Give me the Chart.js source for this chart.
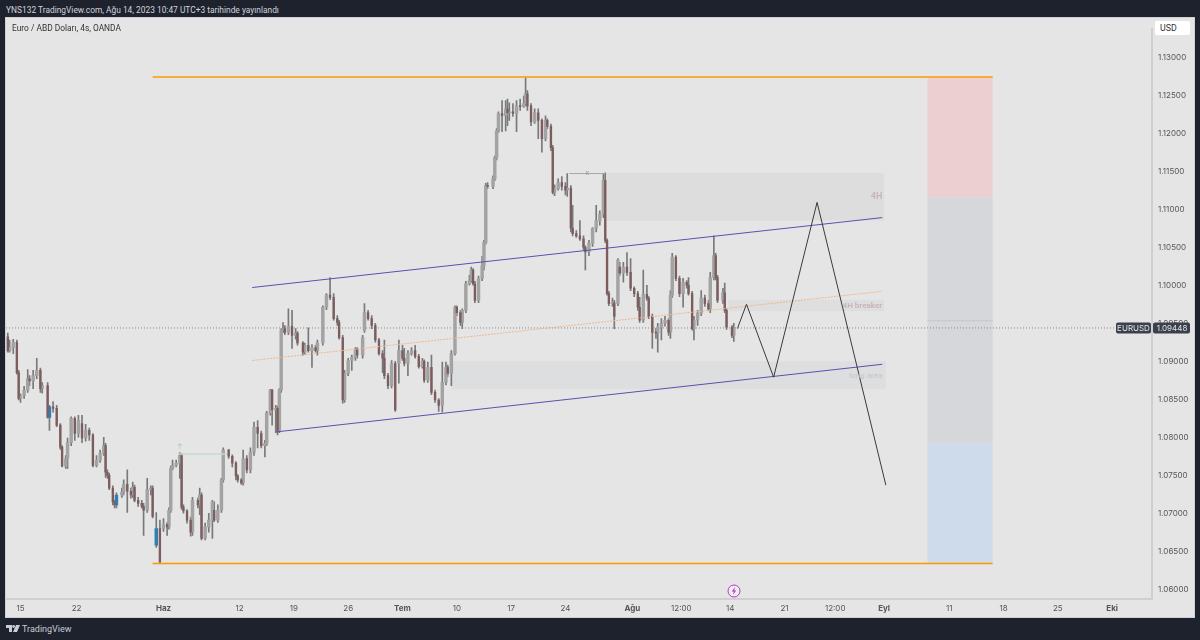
<!DOCTYPE html>
<html lang="tr">
<head>
<meta charset="utf-8">
<title>EURUSD 4s</title>
<script src="https://cdn.jsdelivr.net/npm/chart.js@4"></script>
<style>
  html, body { margin: 0; width: 1200px; height: 640px; overflow: hidden; background: #1e222d; font-family: Roboto, Inter, sans-serif; }
  #box { position: absolute; left: 6px; top: 18px; width: 1188px; height: 599px; background: #e5e5e5; outline: 1px solid #cfd1d4; }
  #head { position: absolute; left: 6px; top: 4px; font-size: 8.4px; line-height: 12px; color: #d1d4dc; white-space: nowrap; }
  #title { position: absolute; left: 12px; top: 22px; font-size: 8.4px; line-height: 12px; color: #333; white-space: nowrap; }
  #usd { position: absolute; left: 1155px; top: 21px; width: 35px; height: 14px; background: #fff; border-radius: 2px; font-size: 8.8px; line-height: 14px; color: #333; text-indent: 5px; }
  #foot { position: absolute; left: 22px; top: 623px; font-size: 9px; line-height: 12px; color: #c9ccd4; white-space: nowrap; }
  #logo { position: absolute; left: 6px; top: 625px; }
  #bolt { position: absolute; left: 727px; top: 584px; }
</style>
</head>
<body>
<div id="head">YNS132 TradingView.com, Ağu 14, 2023 10:47 UTC+3 tarihinde yayınlandı</div>
<div id="box"><canvas id="chart" width="1188" height="599"></canvas></div>
<div id="title">Euro / ABD Doları, 4s, OANDA</div>
<div id="usd">USD</div>
<svg id="bolt" width="14" height="14" viewBox="0 0 14 14"><circle cx="7" cy="7" r="6" fill="#eee" stroke="#b638c9" stroke-width="1"/><path d="M8 3 L4.8 7.6 H6.8 L6 11 L9.2 6.4 H7.2 Z" fill="#b638c9"/></svg>
<svg id="logo" width="14" height="8" viewBox="0 0 14 8"><path d="M0 0 H6 V7 H3 V3 H0 Z M7 7 L10 0 H14 L11 7 Z" fill="#c9ccd4"/><circle cx="7.6" cy="1.5" r="1.4" fill="#c9ccd4"/></svg>
<div id="foot">TradingView</div>
<script>
'use strict'

// 4h bars, counted from the left edge of the chart
const barSlots = [
  1,2,4,6,7,8,10,12,13,15,17,19,
  20,23,24,26,28,30,31,33,34,36,38,40,
  42,44,46,48,50,52,54,55,56,57,59,60,
  61,64,65,67,69,70,71,73,75,76,78,80,
  81,83,85,87,89,90,91,92,94,96,97,98,
  100,102,103,106,107,108,110,112,114,115,117,119,
  120,123,125,127,128,130,131,133,135,137,139,141,
  143,144,146,147,149,150,151,152,153,154,156,158,
  160,161,164,165,167,169,171,172,175,177,179,181,
  183,184,186,187,189,191,193,194,197,198,200,202,
  204,206,208,209,211,213,215,217,219,220,222,224,
  226,228,230,231,233,235,237,239,241,243,244,246,
  248,249,251,252,254,256,257,258,259,261,263,264,
  265,266,269,270,271,272,274,276,277,278,280,282,
  284,286,287,288,290,292,294,296,298,299,301,302,
  303,305,307,309,310,312,313,315,317,319,320,322,
  324,326,328,330,331,332,333,335,336,338,339,341,
  343,345,347,349,350,352,354,355,357,359,360,362,
  364,366,367,368,370,372,374,376,377,379,380,382,
  384,386,388,389,391,392,393,396,397,398,401,402]

const opens = [
  1.0933,1.0915,1.0919,1.0926,1.0886,1.0852,1.0856,1.0863,1.0878,1.0875,1.0882,1.0889,
  1.0865,1.0869,1.0827,1.0841,1.0839,1.0817,1.0788,1.0763,1.0773,1.0794,1.0826,1.0806,
  1.0819,1.0800,1.0810,1.0804,1.0764,1.0771,1.0780,1.0790,1.0755,1.0751,1.0734,1.0716,
  1.0712,1.0725,1.0729,1.0739,1.0730,1.0725,1.0735,1.0718,1.0714,1.0710,1.0705,1.0732,
  1.0734,1.0659,1.0681,1.0681,1.0686,1.0683,1.0705,1.0760,1.0764,1.0767,1.0777,1.0709,
  1.0704,1.0692,1.0676,1.0718,1.0712,1.0725,1.0668,1.0683,1.0692,1.0705,1.0692,1.0705,
  1.0745,1.0784,1.0776,1.0767,1.0750,1.0745,1.0741,1.0773,1.0758,1.0781,1.0814,1.0806,
  1.0790,1.0793,1.0833,1.0863,1.0837,1.0839,1.0810,1.0863,1.0942,1.0944,1.0939,1.0947,
  1.0935,1.0938,1.0925,1.0913,1.0922,1.0915,1.0919,1.0915,1.0925,1.0972,1.0988,1.0985,
  1.0957,1.0952,1.0932,1.0850,1.0885,1.0902,1.0906,1.0917,1.0909,1.0942,1.0965,1.0957,
  1.0948,1.0929,1.0911,1.0905,1.0882,1.0869,1.0898,1.0898,1.0915,1.0905,1.0898,1.0911,
  1.0915,1.0907,1.0894,1.0901,1.0876,1.0893,1.0860,1.0850,1.0843,1.0873,1.0893,1.0885,
  1.0911,1.0972,1.0965,1.0952,1.0968,1.1003,1.1007,1.1021,1.1003,1.0981,1.1010,1.1027,
  1.1057,1.1132,1.1131,1.1141,1.1169,1.1204,1.1227,1.1224,1.1233,1.1228,1.1229,1.1227,
  1.1237,1.1236,1.1240,1.1253,1.1237,1.1216,1.1228,1.1218,1.1194,1.1218,1.1210,1.1182,
  1.1123,1.1128,1.1136,1.1131,1.1126,1.1129,1.1076,1.1069,1.1066,1.1062,1.1051,1.1045,
  1.1056,1.1076,1.1086,1.1095,1.1139,1.1060,1.0990,1.0977,1.0978,1.0977,1.1025,1.1017,
  1.1025,1.1018,1.0997,1.0990,1.0972,1.0955,1.0989,1.0984,1.0960,1.0939,1.0938,1.0946,
  1.0951,1.0955,1.0939,1.0988,1.1038,1.1010,1.0990,1.1005,1.1001,1.0990,1.0944,1.0955,
  1.0964,1.0984,1.0977,1.0970,1.1011,1.1040,1.1011,1.0981,1.0991,1.0968,1.0946,1.0935]

const closes = [
  1.0915,1.0919,1.0926,1.0886,1.0852,1.0856,1.0863,1.0878,1.0875,1.0882,1.0889,1.0865,
  1.0869,1.0827,1.0841,1.0839,1.0817,1.0788,1.0763,1.0773,1.0794,1.0826,1.0806,1.0823,
  1.0800,1.0810,1.0804,1.0764,1.0771,1.0780,1.0790,1.0755,1.0751,1.0734,1.0716,1.0712,
  1.0725,1.0729,1.0739,1.0730,1.0725,1.0735,1.0718,1.0714,1.0710,1.0705,1.0732,1.0734,
  1.0697,1.0681,1.0637,1.0686,1.0683,1.0705,1.0760,1.0764,1.0767,1.0777,1.0709,1.0704,
  1.0692,1.0676,1.0718,1.0712,1.0725,1.0668,1.0683,1.0692,1.0716,1.0692,1.0705,1.0745,
  1.0784,1.0776,1.0767,1.0750,1.0745,1.0741,1.0773,1.0758,1.0781,1.0814,1.0806,1.0790,
  1.0793,1.0833,1.0863,1.0837,1.0839,1.0810,1.0863,1.0942,1.0944,1.0939,1.0947,1.0935,
  1.0938,1.0925,1.0913,1.0922,1.0915,1.0919,1.0915,1.0925,1.0972,1.0988,1.0985,1.0957,
  1.0952,1.0932,1.0850,1.0885,1.0902,1.0906,1.0917,1.0909,1.0932,1.0965,1.0957,1.0948,
  1.0929,1.0911,1.0905,1.0882,1.0869,1.0898,1.0837,1.0915,1.0905,1.0898,1.0911,1.0915,
  1.0907,1.0894,1.0901,1.0876,1.0893,1.0860,1.0850,1.0843,1.0873,1.0893,1.0885,1.0911,
  1.0972,1.0965,1.0952,1.0968,1.1003,1.1007,1.1021,1.1003,1.0981,1.1010,1.1027,1.1057,
  1.1132,1.1131,1.1141,1.1169,1.1204,1.1227,1.1224,1.1233,1.1228,1.1229,1.1227,1.1237,
  1.1236,1.1240,1.1253,1.1237,1.1216,1.1228,1.1218,1.1194,1.1218,1.1210,1.1182,1.1123,
  1.1128,1.1136,1.1131,1.1126,1.1129,1.1076,1.1069,1.1066,1.1062,1.1051,1.1045,1.1056,
  1.1076,1.1086,1.1095,1.1139,1.1060,1.0990,1.0977,1.0978,1.0960,1.1034,1.1017,1.1025,
  1.1018,1.0997,1.0990,1.0972,1.0955,1.0989,1.0984,1.0960,1.0939,1.0938,1.0946,1.0951,
  1.0955,1.0939,1.0988,1.1038,1.1010,1.0990,1.1005,1.1001,1.0990,1.0944,1.0955,1.0964,
  1.0984,1.0977,1.0970,1.1011,1.1040,1.1011,1.0981,1.0991,1.0968,1.0946,1.0935,1.0945]

const highs = [
  1.0938,1.0929,1.0930,1.0929,1.0889,1.0858,1.0868,1.0890,1.0882,1.0889,1.0905,1.0892,
  1.0873,1.0873,1.0843,1.0848,1.0843,1.0819,1.0790,1.0777,1.0800,1.0828,1.0828,1.0830,
  1.0830,1.0818,1.0813,1.0806,1.0777,1.0784,1.0801,1.0793,1.0758,1.0754,1.0737,1.0718,
  1.0728,1.0734,1.0745,1.0758,1.0734,1.0742,1.0738,1.0722,1.0718,1.0714,1.0747,1.0737,
  1.0737,1.0702,1.0692,1.0694,1.0689,1.0708,1.0763,1.0771,1.0771,1.0781,1.0780,1.0712,
  1.0706,1.0696,1.0722,1.0721,1.0734,1.0728,1.0688,1.0701,1.0718,1.0716,1.0712,1.0747,
  1.0787,1.0785,1.0778,1.0769,1.0752,1.0747,1.0784,1.0777,1.0787,1.0821,1.0823,1.0809,
  1.0797,1.0835,1.0864,1.0864,1.0843,1.0842,1.0865,1.0944,1.0952,1.0948,1.0970,1.0968,
  1.0944,1.0940,1.0927,1.0925,1.0945,1.0923,1.0922,1.0929,1.0974,1.0990,1.1011,1.0990,
  1.0961,1.0955,1.0935,1.0889,1.0905,1.0909,1.0919,1.0919,1.0935,1.0977,1.0968,1.0961,
  1.0951,1.0931,1.0915,1.0929,1.0885,1.0902,1.0901,1.0929,1.0922,1.0918,1.0915,1.0919,
  1.0922,1.0910,1.0905,1.0903,1.0900,1.0909,1.0863,1.0852,1.0900,1.0900,1.0896,1.0915,
  1.0974,1.0974,1.0968,1.0970,1.1006,1.1014,1.1025,1.1023,1.1006,1.1013,1.1039,1.1060,
  1.1135,1.1136,1.1145,1.1171,1.1207,1.1229,1.1244,1.1244,1.1246,1.1241,1.1240,1.1244,
  1.1246,1.1250,1.1274,1.1257,1.1240,1.1233,1.1233,1.1220,1.1224,1.1220,1.1213,1.1185,
  1.1133,1.1141,1.1144,1.1136,1.1148,1.1132,1.1106,1.1073,1.1086,1.1066,1.1053,1.1060,
  1.1077,1.1106,1.1099,1.1148,1.1149,1.1062,1.0993,1.0984,1.0981,1.1036,1.1031,1.1031,
  1.1044,1.1036,1.0999,1.0993,1.0985,1.1021,1.1001,1.0986,1.0963,1.0944,1.0951,1.0957,
  1.0960,1.0957,1.0994,1.1043,1.1040,1.1013,1.1010,1.1007,1.1011,1.0993,1.0960,1.0968,
  1.0994,1.0988,1.0981,1.1018,1.1066,1.1043,1.1014,1.0997,1.1004,1.0970,1.0948,1.0951]

const lows = [
  1.0913,1.0913,1.0911,1.0884,1.0850,1.0847,1.0852,1.0860,1.0869,1.0865,1.0878,1.0860,
  1.0859,1.0826,1.0810,1.0834,1.0815,1.0785,1.0762,1.0760,1.0760,1.0790,1.0797,1.0801,
  1.0794,1.0796,1.0797,1.0762,1.0762,1.0768,1.0777,1.0748,1.0747,1.0732,1.0712,1.0708,
  1.0708,1.0722,1.0725,1.0702,1.0721,1.0722,1.0716,1.0710,1.0708,1.0672,1.0702,1.0725,
  1.0695,1.0656,1.0635,1.0677,1.0672,1.0680,1.0702,1.0758,1.0762,1.0747,1.0706,1.0701,
  1.0688,1.0671,1.0672,1.0708,1.0699,1.0666,1.0666,1.0676,1.0668,1.0690,1.0689,1.0702,
  1.0742,1.0773,1.0762,1.0745,1.0742,1.0739,1.0738,1.0754,1.0754,1.0777,1.0787,1.0787,
  1.0775,1.0790,1.0830,1.0817,1.0807,1.0804,1.0807,1.0860,1.0939,1.0936,1.0936,1.0918,
  1.0930,1.0922,1.0909,1.0910,1.0913,1.0893,1.0913,1.0909,1.0922,1.0969,1.0982,1.0955,
  1.0948,1.0930,1.0846,1.0847,1.0882,1.0889,1.0902,1.0905,1.0905,1.0939,1.0955,1.0944,
  1.0926,1.0909,1.0886,1.0878,1.0865,1.0866,1.0835,1.0872,1.0902,1.0895,1.0882,1.0909,
  1.0905,1.0892,1.0892,1.0873,1.0873,1.0857,1.0847,1.0835,1.0834,1.0870,1.0881,1.0869,
  1.0909,1.0961,1.0948,1.0944,1.0965,1.1001,1.1005,1.1001,1.0978,1.0978,1.1007,1.1021,
  1.1055,1.1128,1.1128,1.1139,1.1166,1.1202,1.1203,1.1204,1.1211,1.1218,1.1223,1.1203,
  1.1231,1.1235,1.1237,1.1231,1.1211,1.1214,1.1194,1.1176,1.1191,1.1207,1.1178,1.1121,
  1.1119,1.1126,1.1126,1.1120,1.1118,1.1071,1.1066,1.1064,1.1060,1.1047,1.1021,1.1040,
  1.1052,1.1071,1.1080,1.1090,1.1057,1.0988,1.0974,1.0973,1.0944,1.0974,1.1014,1.1005,
  1.1014,1.0994,1.0986,1.0968,1.0952,1.0952,1.0981,1.0957,1.0918,1.0931,1.0913,1.0929,
  1.0947,1.0935,1.0931,1.0985,1.1007,1.0986,1.0972,1.0997,1.0988,1.0942,1.0929,1.0948,
  1.0961,1.0973,1.0968,1.0965,1.1008,1.1008,1.0978,1.0977,1.0965,1.0943,1.0932,1.0927]

const blueBars = [24, 61, 83]

const priceTicks = [1.06,1.065,1.07,1.075,1.08,1.085,1.09,1.095,1.10,1.105,1.11,1.115,1.12,1.125,1.13]
const timeTicks = [8,39,87,129,159,189,219,249,279,309,346,373,400,430,458,485,521,551,581,611]
const timeLabels = ['15','22','Haz','12','19','26','Tem','10','17','24','Ağu','12:00','14','21','12:00','Eyl','11','18','25','Eki']
const monthLabels = ['Haz','Tem','Ağu','Eyl','Eki']

const lastPrice = 1.09448

// drawings on the chart
const rangeTop = [[81,1.1275],[545,1.1275]]
const rangeBottom = [[81,1.0635],[545,1.0635]]
const channelUpper = [[136,1.0998],[484,1.1090]]
const channelLower = [[149,1.0808],[484,1.0897]]
const channelMiddle = [[136,1.0902],[484,1.0993]]
const forecastPath = [[404,1.0944],[409,1.0976],[424,1.0880],[448,1.1110],[486,1.0738]]
const measureLine = [[311,1.1148],[331,1.1148]]
const signalLine = [[95,1.0779],[122,1.0779]]
const priceLine = [[0,lastPrice],[633,lastPrice]]

const zoneStart = [509,509,509,332,399,246]
const zoneEnd = [545,545,545,485,485,486]
const zoneTop = [1.1275,1.1116,1.0793,1.1149,1.0982,1.0901]
const zoneBottom = [1.1116,1.0793,1.0635,1.1086,1.0967,1.0864]
const zoneColors = ['#ecd0d1','#d6d7da','#cedbeb','#dddddd','#dedede','#dddee0']

function toPoints(list) {
  return list.map(p => ({x: p[0], y: p[1]}))
}

function drawingLine(list, color, width, dash, order) {
  return {
    type: 'line', data: toPoints(list), borderColor: color, borderWidth: width,
    borderDash: dash, pointRadius: 0, tension: 0, fill: false, order: order
  }
}

const wickData = barSlots.map((s, i) => ({x: s, y: [lows[i], highs[i]]}))

// up bodies are wide and grey, down bodies narrow and red
const upIndex = barSlots.map((s, i) => i).filter(i => closes[i] >= opens[i])
const downIndex = barSlots.map((s, i) => i).filter(i => closes[i] < opens[i])

function bodyPoints(list) {
  return list.map(i => ({x: barSlots[i], y: [opens[i], closes[i]]}))
}

function bodyColors(list, color) {
  return list.map(i => blueBars.includes(barSlots[i]) ? '#2f7fb5' : color)
}

const zones = {
  id: 'zones',
  beforeDatasetsDraw(chart) {
    const {ctx, scales: {x, y}} = chart
    ctx.save()
    zoneStart.forEach((s, i) => {
      const left = x.getPixelForValue(s)
      const top = y.getPixelForValue(zoneTop[i])
      ctx.fillStyle = zoneColors[i]
      ctx.fillRect(left, top, x.getPixelForValue(zoneEnd[i]) - left, y.getPixelForValue(zoneBottom[i]) - top)
    })
    // stop line inside the grey part of the position box
    ctx.fillStyle = '#c6c7cb'
    ctx.fillRect(x.getPixelForValue(509), y.getPixelForValue(1.0955), x.getPixelForValue(545) - x.getPixelForValue(509), 1)
    ctx.restore()
  }
}

const labels = {
  id: 'labels',
  afterDatasetsDraw(chart) {
    const {ctx, scales: {x, y}} = chart
    ctx.save()
    ctx.textBaseline = 'middle'

    ctx.textAlign = 'right'
    ctx.font = 'bold 9px Roboto, Inter, sans-serif'
    ctx.fillStyle = '#c9b5b9'
    ctx.fillText('4H', x.getPixelForValue(484), y.getPixelForValue(1.1117))
    ctx.font = 'bold 8px Roboto, Inter, sans-serif'
    ctx.fillText('4H breaker', x.getPixelForValue(484), y.getPixelForValue(1.0974))
    ctx.font = '8px Roboto, Inter, sans-serif'
    ctx.fillStyle = '#c3c5c9'
    ctx.fillText('long area', x.getPixelForValue(484), y.getPixelForValue(1.0882))

    ctx.textAlign = 'center'
    ctx.font = '7px Roboto, Inter, sans-serif'
    ctx.fillStyle = '#b88a90'
    ctx.fillText('x', x.getPixelForValue(321), y.getPixelForValue(1.1148))
    ctx.fillStyle = '#a9cdb5'
    ctx.font = '8px Roboto, Inter, sans-serif'
    ctx.fillText('↑', x.getPixelForValue(96), y.getPixelForValue(1.0788))

    // last price tag on the axis
    const tagY = y.getPixelForValue(lastPrice)
    const right = x.right
    ctx.fillStyle = '#3c404c'
    ctx.beginPath()
    ctx.roundRect(right - 36, tagY - 5.5, 35, 11, 2)
    ctx.roundRect(right + 1, tagY - 5.5, 37, 11, 2)
    ctx.fill()
    ctx.fillStyle = '#e3e4e8'
    ctx.font = '8px Inter, Roboto, sans-serif'
    ctx.fillText('EURUSD', right - 18.5, tagY + 0.5)
    ctx.fillText('1.09448', right + 20, tagY + 0.5)
    ctx.restore()
  }
}

const eurusdChart = new Chart(document.getElementById('chart'), {
  type: 'bar',
  plugins: [zones, labels],
  data: {
    datasets: [
      drawingLine(forecastPath, '#3a3a3a', 1, [], 0),
      drawingLine(rangeTop, '#ff9800', 1.6, [], 1),
      drawingLine(rangeBottom, '#ff9800', 1.6, [], 1),
      drawingLine(channelUpper, '#5b50ae', 1, [], 2),
      drawingLine(channelLower, '#5b50ae', 1, [], 2),
      drawingLine(channelMiddle, '#f0b98c', 1, [2, 1], 3),
      drawingLine(measureLine, '#a8a8a8', 1, [], 4),
      drawingLine(signalLine, '#c6dacb', 1.5, [], 4),
      {type: 'bar', data: bodyPoints(downIndex), backgroundColor: bodyColors(downIndex, '#7c5c5d'), barThickness: 1.7, minBarLength: 1, grouped: false, order: 7},
      {type: 'bar', data: bodyPoints(upIndex), backgroundColor: bodyColors(upIndex, '#a3a3a3'), barThickness: 2.8, minBarLength: 1, grouped: false, order: 8},
      {type: 'bar', data: wickData, backgroundColor: '#77797b', barThickness: 1, grouped: false, order: 9},
      drawingLine(priceLine, '#8a8a8a', 1, [1, 2], 10)
    ]
  },
  options: {
    responsive: false,
    animation: false,
    layout: {padding: 0},
    plugins: {legend: {display: false}, tooltip: {enabled: false}},
    scales: {
      x: {
        type: 'linear', min: 0, max: 633, offset: false,
        grid: {display: false, drawTicks: false},
        border: {color: '#cfcfcf', width: 2},
        afterBuildTicks(axis) { axis.ticks = timeTicks.map(v => ({value: v})) },
        afterFit(axis) { axis.height = 18 },
        ticks: {
          autoSkip: false, maxRotation: 0, padding: 5, color: '#555',
          font(ctx) {
            return {family: 'Inter, Roboto, sans-serif', size: 8, weight: monthLabels.includes(timeLabels[ctx.index]) ? 'bold' : 'normal'}
          },
          callback(value, index) { return timeLabels[index] }
        }
      },
      y: {
        position: 'right', min: 1.05882, max: 1.13384,
        grid: {display: false, drawTicks: false},
        border: {color: '#cfcfcf', width: 2},
        afterBuildTicks(axis) { axis.ticks = priceTicks.map(v => ({value: v})) },
        afterFit(axis) { axis.width = 42 },
        ticks: {
          padding: 6, color: '#555', font: {family: 'Inter, Roboto, sans-serif', size: 8},
          callback(value) { return value.toFixed(5) }
        }
      }
    }
  }
})
</script>
</body>
</html>
